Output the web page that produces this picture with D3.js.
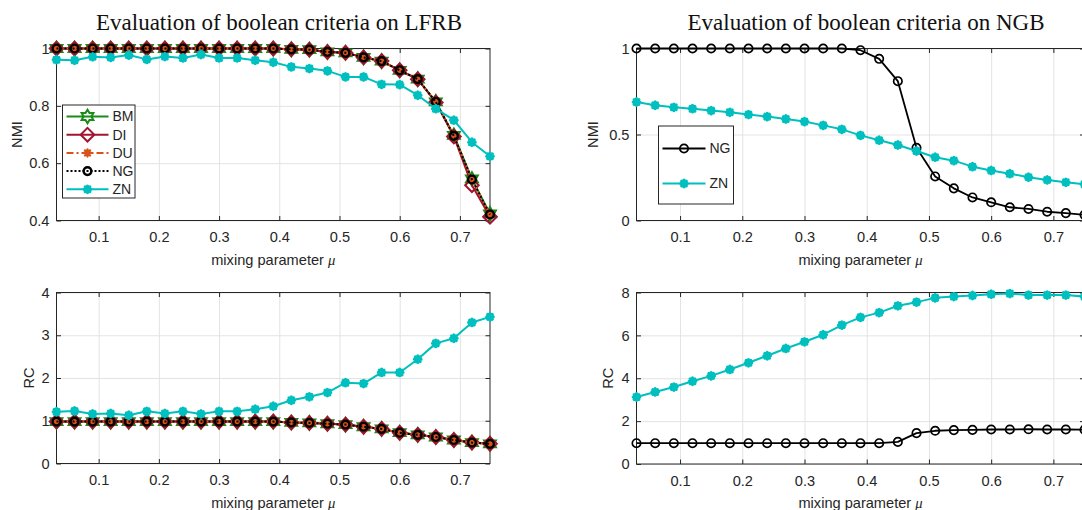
<!DOCTYPE html>
<html><head><meta charset="utf-8">
<script src="https://cdn.jsdelivr.net/npm/d3@7"></script>
<style>body{margin:0;background:#fff}svg{display:block}</style>
</head><body>
<svg id="chart" width="1082" height="510"></svg>
<script>
// ---------------- data ----------------
const mu = [0.03,0.06,0.09,0.12,0.15,0.18,0.21,0.24,0.27,0.30,0.33,0.36,0.39,0.42,0.45,0.48,0.51,0.54,0.57,0.60,0.63,0.66,0.69,0.72,0.75];
const xTicks = [0.1,0.2,0.3,0.4,0.5,0.6,0.7];

// LFRB – NMI
const lfrbNmiBM = [1,1,1,1,1,1,1,1,1,1,1,1,1,0.997,0.996,0.988,0.985,0.969,0.956,0.924,0.893,0.814,0.697,0.545,0.423];
const lfrbNmiDI = [1,1,1,1,1,1,1,1,1,1,1,1,1,0.997,0.996,0.988,0.985,0.969,0.956,0.924,0.893,0.812,0.693,0.523,0.413];
const lfrbNmiDU = [1,1,1,1,1,1,1,1,1,1,1,1,1,0.997,0.996,0.988,0.985,0.969,0.956,0.924,0.893,0.814,0.695,0.543,0.421];
const lfrbNmiNG = [1,1,1,1,1,1,1,1,1,1,1,1,1,0.997,0.996,0.988,0.985,0.969,0.956,0.924,0.893,0.814,0.695,0.543,0.421];
const lfrbNmiZN = [0.961,0.959,0.971,0.969,0.977,0.962,0.972,0.967,0.979,0.967,0.967,0.959,0.952,0.936,0.930,0.922,0.901,0.901,0.875,0.874,0.837,0.790,0.750,0.673,0.624];
// LFRB – RC
const lfrbRcBM = [0.98,0.98,0.98,0.98,0.98,0.98,0.98,0.98,0.98,0.98,0.98,0.98,0.98,0.96,0.95,0.93,0.91,0.86,0.81,0.72,0.67,0.62,0.55,0.49,0.46];
const lfrbRcDI = [0.98,0.98,0.98,0.98,0.98,0.98,0.98,0.98,0.98,0.98,0.98,0.98,0.98,0.96,0.95,0.93,0.91,0.86,0.81,0.72,0.67,0.62,0.55,0.49,0.46];
const lfrbRcDU = [0.98,0.98,0.98,0.98,0.98,0.98,0.98,0.98,0.98,0.98,0.98,0.98,0.98,0.96,0.95,0.93,0.91,0.86,0.81,0.72,0.67,0.62,0.55,0.49,0.46];
const lfrbRcNG = [0.98,0.98,0.98,0.98,0.98,0.98,0.98,0.98,0.98,0.98,0.98,0.98,0.98,0.96,0.95,0.93,0.91,0.86,0.81,0.72,0.67,0.62,0.55,0.49,0.46];
const lfrbRcZN = [1.21,1.23,1.16,1.17,1.13,1.22,1.17,1.22,1.16,1.22,1.22,1.27,1.34,1.48,1.56,1.66,1.89,1.87,2.13,2.13,2.44,2.81,2.93,3.30,3.43];

// NGB – NMI
const ngbNmiNG = [1,1,1,1,1,1,1,1,1,1,1,1,0.99,0.94,0.81,0.423,0.256,0.187,0.134,0.106,0.077,0.067,0.051,0.043,0.033];
const ngbNmiZN = [0.689,0.670,0.658,0.650,0.639,0.629,0.616,0.604,0.590,0.575,0.553,0.530,0.495,0.467,0.439,0.404,0.368,0.348,0.313,0.291,0.272,0.252,0.236,0.222,0.211];
// NGB – RC
const ngbRcNG = [0.97,0.97,0.97,0.97,0.97,0.97,0.97,0.97,0.97,0.97,0.97,0.97,0.97,0.97,1.03,1.44,1.55,1.58,1.59,1.61,1.61,1.62,1.61,1.61,1.60];
const ngbRcZN = [3.125,3.36,3.59,3.86,4.11,4.41,4.72,5.05,5.39,5.70,6.03,6.48,6.84,7.06,7.38,7.55,7.75,7.81,7.86,7.92,7.95,7.88,7.88,7.88,7.81];

const titles = ["Evaluation of boolean criteria on LFRB","Evaluation of boolean criteria on NGB"];
const nmiTicksLFRB = [0.4,0.6,0.8,1];
const rcTicksLFRB = [0,1,2,3,4];
const nmiTicksNGB = [0,0.5,1];
const rcTicksNGB = [0,2,4,6,8];

// ---------------- styles ----------------
const style = {
  BM:{color:"#1a8c1a", dash:null, width:2, marker:"hexagram"},
  DI:{color:"#a2142f", dash:null, width:2, marker:"diamond"},
  DU:{color:"#d95319", dash:"7,3,2,3", width:2, marker:"asterisk"},
  NG:{color:"#000000", dash:"2,2", width:2, marker:"circle"},
  ZN:{color:"#00bfbf", dash:null, width:2, marker:"blob"},
  NG2:{color:"#000000", dash:null, width:1.8, marker:"circle2"},
};

const svg = d3.select("#chart");
const FONT = "'Liberation Sans', Arial, Helvetica, sans-serif";
const TXT = "#262626";

function markerPath(type){
  const p = d3.path();
  if(type==="hexagram"){
    const R=6.8, r=R/Math.sqrt(3);
    for(let k=0;k<12;k++){
      const a=(-90+30*k)*Math.PI/180, rr=k%2===0?R:r;
      const x=rr*Math.cos(a), y=rr*Math.sin(a);
      k===0?p.moveTo(x,y):p.lineTo(x,y);
    }
    p.closePath();
  } else if(type==="diamond"){
    const r=6.8;
    p.moveTo(0,-r);p.lineTo(r,0);p.lineTo(0,r);p.lineTo(-r,0);p.closePath();
  } else if(type==="asterisk"){
    const r=3.6;
    for(let k=0;k<4;k++){const a=k*Math.PI/4;p.moveTo(-r*Math.cos(a),-r*Math.sin(a));p.lineTo(r*Math.cos(a),r*Math.sin(a));}
  } else if(type==="blob"){
    const r=3.3;
    for(let k=0;k<4;k++){const a=k*Math.PI/4;p.moveTo(-r*Math.cos(a),-r*Math.sin(a));p.lineTo(r*Math.cos(a),r*Math.sin(a));}
  } else if(type==="circle"){
    p.arc(0,0,3.9,0,2*Math.PI);
  } else if(type==="circle2"){
    p.arc(0,0,4.2,0,2*Math.PI);
  }
  return p.toString();
}
function markerAttrs(sel, st){
  sel.attr("d", markerPath(st.marker)).attr("fill","none").attr("stroke",st.color)
     .attr("stroke-linecap","round").attr("stroke-linejoin","miter");
  if(st.marker==="blob") sel.attr("stroke-width",3.2);
  else if(st.marker==="circle") sel.attr("stroke-width",2.4);
  else if(st.marker==="circle2") sel.attr("stroke-width",1.7);
  else if(st.marker==="asterisk") sel.attr("stroke-width",2.3);
  else sel.attr("stroke-width",2);
}

function panel(cfg){
  const x = d3.scaleLinear().domain([0.03,0.75]).range([cfg.x0,cfg.x1]);
  const y = d3.scaleLinear().domain(cfg.yDomain).range([cfg.y1,cfg.y0]);
  const g = svg.append("g");
  // grid
  g.append("g").attr("transform",`translate(0,${cfg.y1})`)
    .call(d3.axisBottom(x).tickValues(xTicks).tickSize(-(cfg.y1-cfg.y0)).tickFormat(""))
    .call(s=>{s.select(".domain").remove();s.selectAll("line").attr("stroke","#e3e3e3");});
  g.append("g").attr("transform",`translate(${cfg.x0},0)`)
    .call(d3.axisLeft(y).tickValues(cfg.yTicks).tickSize(-(cfg.x1-cfg.x0)).tickFormat(""))
    .call(s=>{s.select(".domain").remove();s.selectAll("line").attr("stroke","#e3e3e3");});
  // axes
  const fmt = d3.format("~g");
  const ax = g.append("g").attr("transform",`translate(0,${cfg.y1})`)
    .call(d3.axisBottom(x).tickValues(xTicks).tickSize(-4.5).tickSizeOuter(0).tickPadding(17).tickFormat(fmt));
  const axT = g.append("g").attr("transform",`translate(0,${cfg.y0})`)
    .call(d3.axisTop(x).tickValues(xTicks).tickSize(-4.5).tickSizeOuter(0).tickFormat(""));
  const ay = g.append("g").attr("transform",`translate(${cfg.x0},0)`)
    .call(d3.axisLeft(y).tickValues(cfg.yTicks).tickSize(-4.5).tickSizeOuter(0).tickPadding(7).tickFormat(fmt));
  const ayR = g.append("g").attr("transform",`translate(${cfg.x1},0)`)
    .call(d3.axisRight(y).tickValues(cfg.yTicks).tickSize(-4.5).tickSizeOuter(0).tickFormat(""));
  [ax,axT,ay,ayR].forEach(a=>{
    a.select(".domain").remove();
    a.selectAll("line").attr("stroke",TXT);
    a.selectAll("text").attr("fill",TXT).style("font-family",FONT).style("font-size","14.6px");
  });
  ax.selectAll("text").attr("dy","0.32em");
  g.append("rect").attr("x",cfg.x0).attr("y",cfg.y0).attr("width",cfg.x1-cfg.x0).attr("height",cfg.y1-cfg.y0)
    .attr("fill","none").attr("stroke",TXT).attr("stroke-width",1);
  // series
  cfg.series.forEach(s=>{
    const st = style[s.key];
    const line = d3.line().x((d,i)=>x(mu[i])).y(d=>y(d));
    g.append("path").datum(s.values).attr("d",line).attr("fill","none")
      .attr("stroke",st.color).attr("stroke-width",st.width).attr("stroke-dasharray",st.dash)
      .attr("stroke-linejoin","round");
    g.append("g").selectAll("path").data(s.values).join("path")
      .attr("transform",(d,i)=>`translate(${x(mu[i])},${y(d)})`)
      .call(sel=>markerAttrs(sel,st));
  });
  // labels
  const xl = svg.append("text").attr("x",(cfg.x0+cfg.x1)/2).attr("y",cfg.xlabY)
    .attr("text-anchor","middle").attr("fill",TXT).style("font-family",FONT).style("font-size","14.6px");
  xl.append("tspan").text("mixing parameter ");
  xl.append("tspan").text("μ").style("font-family","'Liberation Serif', serif").style("font-style","italic");
  svg.append("text").attr("transform",`translate(${cfg.ylabX},${(cfg.y0+cfg.y1)/2}) rotate(-90)`)
    .attr("text-anchor","middle").attr("fill",TXT).style("font-family",FONT).style("font-size","14.6px")
    .text(cfg.ylab);
  if(cfg.title){
    svg.append("text").attr("x",cfg.titleX).attr("y",30).attr("text-anchor","middle")
      .attr("fill","#111").style("font-family","'Liberation Serif', 'Times New Roman', serif").style("font-size","23px")
      .text(cfg.title);
  }
  if(cfg.legend){
    const L = cfg.legend;
    const lg = svg.append("g");
    lg.append("rect").attr("x",L.x).attr("y",L.y).attr("width",L.w).attr("height",L.h)
      .attr("fill","#fff").attr("stroke",TXT).attr("stroke-width",1);
    L.keys.forEach((k,i)=>{
      const st = style[k.style];
      const yy = L.firstY + i*L.step;
      lg.append("line").attr("x1",L.lx0).attr("x2",L.lx1).attr("y1",yy).attr("y2",yy)
        .attr("stroke",st.color).attr("stroke-width",st.width).attr("stroke-dasharray",st.dash);
      lg.append("path").attr("transform",`translate(${(L.lx0+L.lx1)/2},${yy})`).call(sel=>markerAttrs(sel,st));
      lg.append("text").attr("x",L.tx).attr("y",yy).attr("dy","0.35em").attr("fill",TXT)
        .style("font-family",FONT).style("font-size","14px").text(k.label);
    });
  }
}

panel({x0:56.5,x1:490,y0:48.5,y1:220.5,yDomain:[0.4,1],yTicks:nmiTicksLFRB,ylab:"NMI",ylabX:22,xlabY:265,
  title:titles[0],titleX:279,
  series:[{key:"BM",values:lfrbNmiBM},{key:"DI",values:lfrbNmiDI},{key:"DU",values:lfrbNmiDU},{key:"NG",values:lfrbNmiNG},{key:"ZN",values:lfrbNmiZN}],
  legend:{x:62.5,y:105,w:72.5,h:93,firstY:116.5,step:18.2,lx0:66.5,lx1:108.5,tx:112.5,
    keys:[{style:"BM",label:"BM"},{style:"DI",label:"DI"},{style:"DU",label:"DU"},{style:"NG",label:"NG"},{style:"ZN",label:"ZN"}]}
});
panel({x0:56.5,x1:490,y0:292.5,y1:463.5,yDomain:[0,4],yTicks:rcTicksLFRB,ylab:"RC",ylabX:34,xlabY:508,
  series:[{key:"BM",values:lfrbRcBM},{key:"DI",values:lfrbRcDI},{key:"DU",values:lfrbRcDU},{key:"NG",values:lfrbRcNG},{key:"ZN",values:lfrbRcZN}]
});
panel({x0:636.5,x1:1084.5,y0:48.5,y1:220.5,yDomain:[0,1],yTicks:nmiTicksNGB,ylab:"NMI",ylabX:598,xlabY:265,
  title:titles[1],titleX:866,
  series:[{key:"NG2",values:ngbNmiNG},{key:"ZN",values:ngbNmiZN}],
  legend:{x:658.5,y:126,w:75,h:78,firstY:148.5,step:35,lx0:662.5,lx1:705.5,tx:709.5,
    keys:[{style:"NG2",label:"NG"},{style:"ZN",label:"ZN"}]}
});
panel({x0:636.5,x1:1084.5,y0:292.5,y1:464,yDomain:[0,8],yTicks:rcTicksNGB,ylab:"RC",ylabX:613,xlabY:508,
  series:[{key:"NG2",values:ngbRcNG},{key:"ZN",values:ngbRcZN}]
});
</script>
</body></html>
